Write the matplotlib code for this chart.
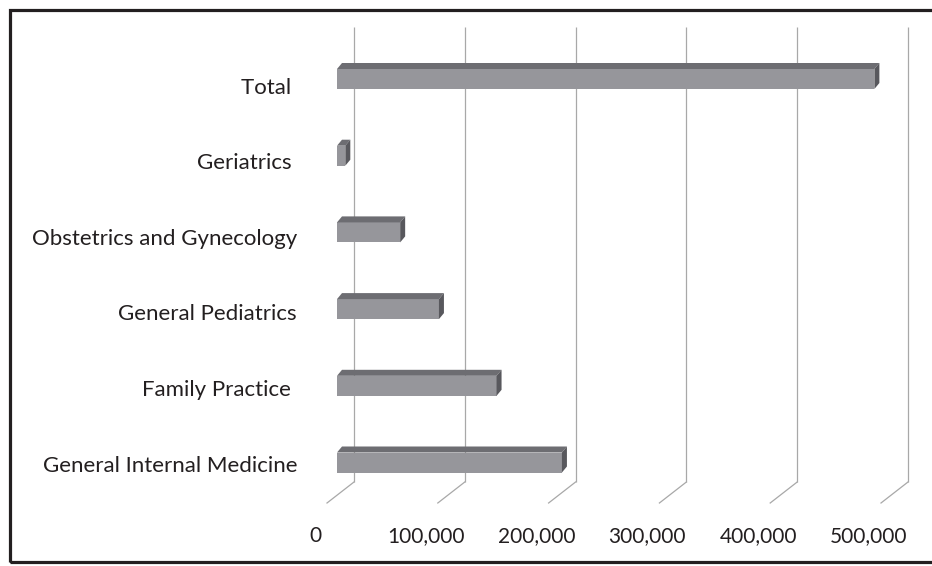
"""Primary care physicians by specialty, drawn as Excel-style 3D horizontal bars."""

import matplotlib.pyplot as plt
from matplotlib.patches import Polygon, Rectangle

categories = [
    "General Internal Medicine",
    "Family Practice ",
    "General Pediatrics",
    "Obstetrics and Gynecology",
    "Geriatrics ",
    "Total ",
]
physicians = [203000, 144000, 92000, 57000, 7500, 485000]
ticks = [0, 100000, 200000, 300000, 400000, 500000]
tick_labels = ["0", "100,000", "200,000", "300,000", "400,000", "500,000"]

W, H, DPI = 932, 566, 100

# pixel -> data conversion (x: value units, y: category units)
PX_PER_100K = 110.8
PX_PER_CAT = 76.7
ux = 1e5 / PX_PER_100K
uy = 1 / PX_PER_CAT

FRONT_X0 = 337     # pixel where the front face of the bars starts
CAT0_Y = 462.5     # pixel centre of the first category bar

FRONT = "#96969b"
TOP = "#6d6d72"
SIDE = "#58585d"
GRID = "#a8a8a8"
INK = "#231f20"

fig = plt.figure(figsize=(W / DPI, H / DPI), dpi=DPI)
ax = fig.add_axes([0, 0, 1, 1])
ax.set_xlim(-FRONT_X0 * ux, (W - FRONT_X0) * ux)
ax.set_ylim(-(H - CAT0_Y) * uy, CAT0_Y * uy)
ax.axis("off")

# back wall gridlines and the floor edges running towards the viewer
wall_dx, wall_top, wall_bot = 17, 27, 482
floor_dx, floor_y = -10, 503
for v in ticks:
    xb = v + wall_dx * ux
    ax.plot([xb, xb], [(CAT0_Y - wall_top) * uy, (CAT0_Y - wall_bot) * uy],
            color=GRID, lw=0.9, solid_capstyle="butt", zorder=1)
    ax.plot([xb, v + floor_dx * ux], [(CAT0_Y - wall_bot) * uy, (CAT0_Y - floor_y) * uy],
            color=GRID, lw=0.9, zorder=1)

# bars: front face + top + right side
bar_h = 20 * uy
dx, dy = 5 * ux, 6 * uy
ypos = list(range(len(categories)))
ax.barh(ypos, physicians, height=bar_h, color=FRONT, edgecolor="none", zorder=3)
for y, v in zip(ypos, physicians):
    top = y + bar_h / 2
    bot = y - bar_h / 2
    ax.add_patch(Polygon([(0, top), (v, top), (v + dx, top + dy), (dx, top + dy)],
                         closed=True, facecolor=TOP, edgecolor="none", zorder=3))
    ax.add_patch(Polygon([(v, bot), (v, top), (v + dx, top + dy), (v + dx, bot + dy)],
                         closed=True, facecolor=SIDE, edgecolor="none", zorder=3))

# category labels
for y, name in zip(ypos, categories):
    drop = (3 + 1.2 * y) * uy
    ax.text(-40 * ux, y - drop, name, ha="right", va="center",
            fontsize=16, color=INK, family="Lato")

# value axis labels
for v, lab in zip(ticks, tick_labels):
    ax.text(v - 22 * ux, (CAT0_Y - 536) * uy, lab, ha="center", va="center",
            fontsize=15, color=INK, family="Lato")

# outer frame (its right edge runs past the image)
fig.patches.append(Rectangle((9.5 / W, 1 - 562 / H), (945 - 9.5) / W, (562 - 9.5) / H,
                             transform=fig.transFigure, fill=False,
                             edgecolor=INK, lw=2.3))

fig.savefig("out.png", dpi=DPI, facecolor="white")
